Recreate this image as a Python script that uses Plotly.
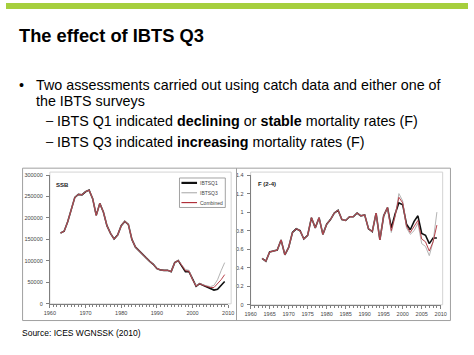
import plotly.graph_objects as go

W, H = 474, 355

# ---------------- data ----------------
years = list(range(1963, 2010))

ssb_q1 = [165000, 169000, 191000, 221000, 248000, 255000, 254000, 261000, 265000, 245000,
          206000, 234000, 214000, 182000, 164000, 151000, 160000, 182000, 192000, 185000,
          150000, 132000, 123000, 115000, 107000, 99000, 92000, 82000, 79000, 78000,
          78000, 75000, 96000, 101000, 87000, 75000, 75000, 56000, 41000, 47000,
          43000, 40000, 35000, 32000, 34000, 44000, 52000]
ssb_q3 = [165000, 169000, 191000, 221000, 248000, 255000, 254000, 261000, 265000, 245000,
          206000, 234000, 214000, 182000, 164000, 151000, 160000, 182000, 192000, 185000,
          150000, 132000, 123000, 115000, 107000, 99000, 92000, 82000, 79000, 78000,
          78000, 75000, 96000, 101000, 89000, 80000, 78000, 56000, 42000, 47000,
          44000, 42000, 40000, 43000, 56000, 77000, 96000]
ssb_comb = [165000, 169000, 191000, 221000, 248000, 255000, 254000, 261000, 265000, 245000,
            206000, 234000, 214000, 182000, 164000, 151000, 160000, 182000, 192000, 185000,
            150000, 132000, 123000, 115000, 107000, 99000, 92000, 82000, 79000, 78000,
            78000, 75000, 96000, 101000, 88000, 77000, 76000, 56000, 41000, 47000,
            43000, 41000, 38000, 38000, 46000, 56000, 68000]

f_q1 = [0.50, 0.47, 0.57, 0.58, 0.59, 0.70, 0.54, 0.62, 0.78, 0.82,
        0.80, 0.71, 0.75, 0.94, 0.83, 0.94, 0.76, 0.87, 0.92, 0.99,
        1.02, 0.92, 0.91, 0.95, 0.95, 0.99, 0.96, 0.97, 0.82, 0.79,
        0.99, 0.70, 0.96, 1.05, 0.83, 0.98, 1.10, 1.08, 0.87, 0.81,
        0.90, 0.96, 0.77, 0.75, 0.66, 0.72, 0.72]
f_q3 = [0.50, 0.47, 0.57, 0.58, 0.59, 0.70, 0.54, 0.62, 0.78, 0.82,
        0.80, 0.71, 0.75, 0.94, 0.83, 0.94, 0.76, 0.87, 0.92, 0.99,
        1.02, 0.92, 0.91, 0.95, 0.95, 0.99, 0.96, 0.97, 0.82, 0.79,
        0.99, 0.70, 0.96, 1.05, 0.78, 0.95, 1.20, 1.12, 0.83, 0.76,
        0.80, 0.88, 0.66, 0.63, 0.53, 0.68, 1.00]
f_comb = [0.50, 0.47, 0.57, 0.58, 0.59, 0.70, 0.54, 0.62, 0.78, 0.82,
          0.80, 0.71, 0.75, 0.94, 0.83, 0.94, 0.76, 0.87, 0.92, 0.99,
          1.02, 0.92, 0.91, 0.95, 0.95, 0.99, 0.96, 0.97, 0.82, 0.79,
          0.99, 0.70, 0.96, 1.05, 0.80, 0.96, 1.16, 1.10, 0.85, 0.78,
          0.84, 0.91, 0.71, 0.68, 0.58, 0.68, 0.86]

series_names = ["IBTSQ1", "IBTSQ3", "Combined"]
ssb_ticks = [0, 50000, 100000, 150000, 200000, 250000, 300000]
f_ticks = [0, 0.2, 0.4, 0.6, 0.8, 1, 1.2, 1.4]

# ---------------- styles ----------------
FONT = "Liberation Sans, Arial, sans-serif"
C_Q1, C_Q3, C_COMB = "#111111", "#b4b4b4", "#b0303a"
W_Q1, W_Q3, W_COMB = 1.6, 1.0, 0.9


def px(x):
    return x / W


def py(y):
    return 1 - y / H


fig = go.Figure()

for xa, ya, data in [("x", "y", (ssb_q1, ssb_q3, ssb_comb)), ("x2", "y2", (f_q1, f_q3, f_comb))]:
    for name, vals, col, wd in zip(series_names, data, [C_Q1, C_Q3, C_COMB], [W_Q1, W_Q3, W_COMB]):
        fig.add_trace(go.Scatter(x=years, y=vals, mode="lines", name=name,
                                 line=dict(color=col, width=wd), xaxis=xa, yaxis=ya,
                                 showlegend=False, hoverinfo="skip"))

tickfont = dict(family=FONT, size=5.5, color="#444444")
axis_common = dict(showgrid=False, zeroline=False, showline=True, linecolor="#7f7f7f",
                   linewidth=1, ticks="outside", ticklen=3, tickcolor="#7f7f7f",
                   tickfont=tickfont, fixedrange=True)

fig.update_layout(
    width=W, height=H,
    margin=dict(l=0, r=0, t=0, b=0),
    paper_bgcolor="white", plot_bgcolor="white",
    xaxis=dict(domain=[px(45), px(228)], range=[1960, 2010], tickvals=[1960, 1970, 1980, 1990, 2000, 2010],
               minor=dict(dtick=1, tick0=1960, ticks="outside", ticklen=2, tickcolor="#7f7f7f"),
               anchor="y", ticklabelstandoff=1, **axis_common),
    yaxis=dict(domain=[py(306), py(175)], range=[0, 300000], tickvals=ssb_ticks, tickformat="d",
               anchor="x", ticklabelstandoff=2, **axis_common),
    xaxis2=dict(domain=[px(251), px(446)], range=[1960, 2010], dtick=5, tick0=1960,
                minor=dict(dtick=1, tick0=1960, ticks="outside", ticklen=2, tickcolor="#7f7f7f"),
                anchor="y2", ticklabelstandoff=1, **axis_common),
    yaxis2=dict(domain=[py(307), py(175)], range=[0, 1.4], tickvals=f_ticks,
                anchor="x2", ticklabelstandoff=2, **axis_common),
)

shapes = []
# green bar at top of slide
shapes.append(dict(type="rect", xref="paper", yref="paper", x0=0, x1=1, y0=py(6), y1=1,
                   fillcolor="#a6cf3d", line=dict(width=0), layer="below"))
# chart outer frame and divider
shapes.append(dict(type="rect", xref="paper", yref="paper", x0=px(17), x1=px(456), y0=py(323), y1=py(168),
                   line=dict(color="#a0a0a0", width=1), fillcolor="rgba(0,0,0,0)", layer="below"))
shapes.append(dict(type="line", xref="paper", yref="paper", x0=px(236.5), x1=px(236.5), y0=py(323), y1=py(168),
                   line=dict(color="#a0a0a0", width=1)))
# plot area borders
shapes.append(dict(type="rect", xref="paper", yref="paper", x0=px(45), x1=px(231), y0=py(306), y1=py(172),
                   line=dict(color="#d4d4d4", width=1), fillcolor="rgba(0,0,0,0)", layer="below"))
shapes.append(dict(type="rect", xref="paper", yref="paper", x0=px(251), x1=px(448), y0=py(307), y1=py(172),
                   line=dict(color="#d4d4d4", width=1), fillcolor="rgba(0,0,0,0)", layer="below"))
# legend box
shapes.append(dict(type="rect", xref="paper", yref="paper", x0=px(178), x1=px(225), y0=py(208), y1=py(178),
                   line=dict(color="#8c8c8c", width=0.8), fillcolor="white"))

annotations = []
leg_y = [183, 193, 203]
for name, col, wd, yy in zip(series_names, [C_Q1, C_Q3, C_COMB], [2.2, 1.2, 1.2], leg_y):
    shapes.append(dict(type="line", xref="paper", yref="paper", x0=px(180), x1=px(196), y0=py(yy), y1=py(yy),
                       line=dict(color=col, width=wd)))
    annotations.append(dict(text=name, xref="paper", yref="paper", x=px(197), y=py(yy), xanchor="left",
                            yanchor="middle", showarrow=False, font=dict(family=FONT, size=5, color="#444444")))

fig.update_layout(shapes=shapes)


def txt(s, x, y, size, bold=False, color="#000000", xanchor="left"):
    annotations.append(dict(text=(f"<b>{s}</b>" if bold else s), xref="paper", yref="paper",
                            x=px(x), y=py(y), xanchor=xanchor, yanchor="middle", showarrow=False,
                            font=dict(family=FONT, size=size, color=color)))


txt("The effect of IBTS Q3", 11, 33, 18.3, bold=True)
txt("•", 11, 83, 14.3)
txt("Two assessments carried out using catch data and either one of", 29, 83, 14.3)
txt("the IBTS surveys", 29, 100, 14.3)
txt("–", 39, 120, 13)
txt("IBTS Q1 indicated <b>declining</b> or <b>stable</b> mortality rates (F)", 50, 120, 14.3)
txt("–", 39, 141, 13)
txt("IBTS Q3 indicated <b>increasing</b> mortality rates (F)", 50, 141, 14.3)
txt("Source: ICES WGNSSK (2010)", 14, 336, 8.5)
txt("SSB", 49, 185, 6, bold=True, color="#222222")
txt("F (2-4)", 256, 184, 6, bold=True, color="#222222")

fig.update_layout(annotations=annotations)

fig.write_html("out.html", config={"displayModeBar": False},
               post_script="document.body.style.margin='0';document.body.style.overflow='hidden';")
